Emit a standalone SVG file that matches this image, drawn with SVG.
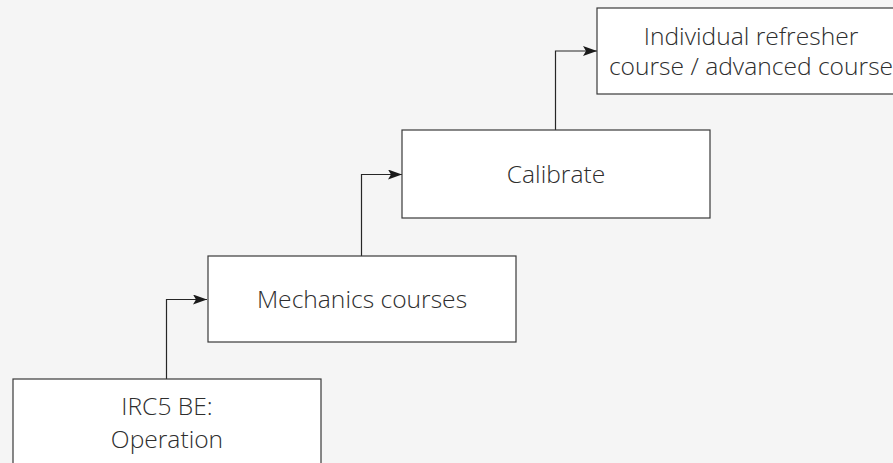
<svg xmlns="http://www.w3.org/2000/svg" width="893" height="463" viewBox="0 0 893 463">
<style>
.box{fill:#ffffff;stroke:#3a3a3a;stroke-width:1.2}
.lbl{font-family:"Open Sans","Liberation Sans",sans-serif;font-weight:300;font-size:24.6px;fill:#2e2e2e;text-anchor:middle}
.con{fill:none;stroke:#262626;stroke-width:1.2}
</style>
<defs>
<marker id="arr" viewBox="0 0 14 10" refX="14" refY="5" markerWidth="14" markerHeight="10" markerUnits="userSpaceOnUse" orient="auto">
<path d="M0,0 L14,5 L0,10 L3,5 Z" fill="#1a1a1a"/>
</marker>
</defs>
<rect width="893" height="463" fill="#f5f5f5"/>
<g id="connectors">
<path class="con" d="M166.5,379 V299.5 H207" marker-end="url(#arr)"/>
<path class="con" d="M361.5,256 V174.5 H402" marker-end="url(#arr)"/>
<path class="con" d="M555.5,130 V51 H597" marker-end="url(#arr)"/>
</g>
<g id="node1">
<rect class="box" x="13" y="379" width="308" height="100"/>
<text class="lbl" x="167" y="415">IRC5 BE:</text>
<text class="lbl" x="167" y="448">Operation</text>
</g>
<g id="node2">
<rect class="box" x="208" y="256" width="308" height="86"/>
<text class="lbl" x="362" y="308">Mechanics courses</text>
</g>
<g id="node3">
<rect class="box" x="402" y="130" width="308" height="88"/>
<text class="lbl" x="556" y="183">Calibrate</text>
</g>
<g id="node4">
<rect class="box" x="597" y="8" width="308" height="86"/>
<text class="lbl" x="751" y="45">Individual refresher</text>
<text class="lbl" x="751" y="75">course / advanced course</text>
</g>
</svg>
